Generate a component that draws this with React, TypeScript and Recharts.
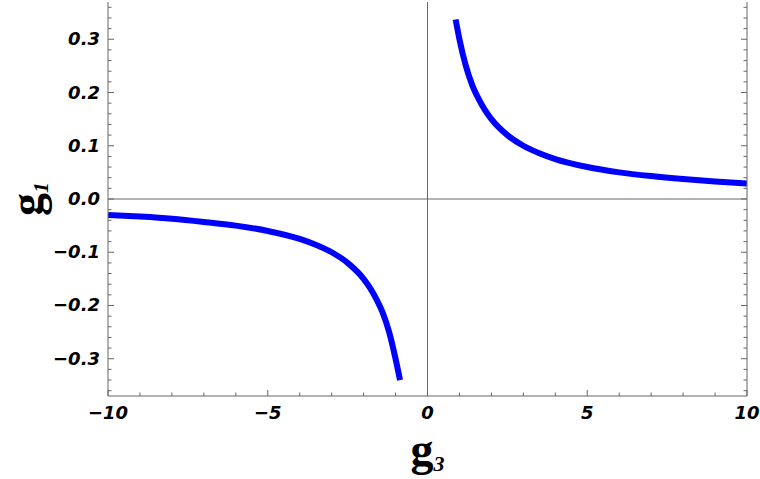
import { LineChart, Line, XAxis, YAxis, ReferenceLine, Label } from "recharts";

// values
const rightG3 = [0.88, 1.0, 1.2, 1.4, 1.6, 1.8, 2.0, 2.5, 3.0, 3.5, 4, 5, 6, 7, 8, 9, 10];
const rightG1 = [0.337, 0.3, 0.25, 0.214, 0.188, 0.167, 0.15, 0.12, 0.1, 0.086, 0.075, 0.06, 0.05, 0.043, 0.0375, 0.033, 0.029];
const leftG3 = [-10, -9, -8, -7, -6, -5, -4, -3.5, -3, -2.5, -2, -1.8, -1.6, -1.4, -1.2, -1.0, -0.86];
const leftG1 = [-0.03, -0.033, -0.037, -0.043, -0.05, -0.06, -0.075, -0.086, -0.1, -0.12, -0.15, -0.167, -0.188, -0.214, -0.25, -0.3, -0.34];

const xTicks = [-10, -9, -8, -7, -6, -5, -4, -3, -2, -1, 0, 1, 2, 3, 4, 5, 6, 7, 8, 9, 10];
const yTicks = [
  -0.36, -0.34, -0.32, -0.3, -0.28, -0.26, -0.24, -0.22, -0.2, -0.18, -0.16, -0.14, -0.12, -0.1,
  -0.08, -0.06, -0.04, -0.02, 0, 0.02, 0.04, 0.06, 0.08, 0.1, 0.12, 0.14, 0.16, 0.18, 0.2, 0.22,
  0.24, 0.26, 0.28, 0.3, 0.32, 0.34, 0.36,
];

const rightData = rightG3.map((g3, i) => ({ g3, g1: rightG1[i] }));
const leftData = leftG3.map((g3, i) => ({ g3, g1: leftG1[i] }));

const FRAME = "#666";
const tickFont = { fontFamily: "DejaVu Sans", fontWeight: "bold" as const, fontStyle: "italic" as const, fontSize: 18 };

const minus = (s: string) => s.replace("-", "\u2212");
const isMajorY = (v: number) => Math.abs(v * 10 - Math.round(v * 10)) < 1e-6;

const BottomTick = (props: any) => {
  const { x, y, payload } = props;
  const v = payload.value;
  const major = v % 5 === 0;
  return (
    <g>
      <line x1={x} x2={x} y1={y} y2={y - (major ? 6 : 3.5)} stroke={FRAME} />
      {major && (
        <text x={x} y={y + 23} textAnchor="middle" fill="#000" {...tickFont}>
          {minus(String(v))}
        </text>
      )}
    </g>
  );
};

const TopTick = (props: any) => {
  const { x, y, payload } = props;
  const major = payload.value % 5 === 0;
  return <line x1={x} x2={x} y1={y} y2={y + (major ? 6 : 3.5)} stroke={FRAME} />;
};

const LeftTick = (props: any) => {
  const { x, y, payload } = props;
  const v = payload.value;
  const major = isMajorY(v);
  return (
    <g>
      <line x1={x} x2={x + (major ? 6 : 3.5)} y1={y} y2={y} stroke={FRAME} />
      {major && (
        <text x={x - 8} y={y + 6} textAnchor="end" fill="#000" {...tickFont}>
          {minus(v.toFixed(1))}
        </text>
      )}
    </g>
  );
};

const RightTick = (props: any) => {
  const { x, y, payload } = props;
  const major = isMajorY(payload.value);
  return <line x1={x} x2={x - (major ? 6 : 3.5)} y1={y} y2={y} stroke={FRAME} />;
};

const XTitle = (props: any) => {
  const { x, y, width } = props.viewBox;
  return (
    <text x={x + width / 2} y={y + 69} textAnchor="middle" fill="#000" fontFamily="Liberation Serif">
      <tspan fontSize={46} fontWeight="bold">g</tspan>
      <tspan fontSize={22} fontWeight="bold" fontStyle="italic" dy={6}>3</tspan>
    </text>
  );
};

const YTitle = (props: any) => {
  const { y, height } = props.viewBox;
  const cx = 42;
  const cy = y + height / 2;
  return (
    <text x={cx} y={cy} transform={`rotate(-90, ${cx}, ${cy})`} textAnchor="middle" fill="#000" fontFamily="Liberation Serif">
      <tspan fontSize={46} fontWeight="bold">g</tspan>
      <tspan fontSize={22} fontWeight="bold" fontStyle="italic" dy={6}>1</tspan>
    </text>
  );
};

export default function App() {
  return (
    <div style={{ position: "fixed", left: 0, top: 0, background: "#fff" }}>
      <LineChart width={760} height={479} margin={{ top: 2, right: 0, bottom: 0, left: 0 }}>
        <XAxis
          xAxisId="b"
          type="number"
          dataKey="g3"
          domain={[-10, 10]}
          ticks={xTicks}
          interval={0}
          allowDataOverflow
          height={83}
          tickSize={0}
          tickMargin={0}
          tickLine={false}
          tick={<BottomTick />}
          axisLine={{ stroke: FRAME }}
        >
          <Label content={<XTitle />} />
        </XAxis>
        <XAxis
          xAxisId="t"
          orientation="top"
          type="number"
          domain={[-10, 10]}
          ticks={xTicks}
          interval={0}
          allowDataOverflow
          height={0}
          tickSize={0}
          tickMargin={0}
          tickLine={false}
          tick={<TopTick />}
          axisLine={{ stroke: FRAME }}
        />
        <YAxis
          yAxisId="l"
          type="number"
          domain={[-0.37, 0.37]}
          ticks={yTicks}
          interval={0}
          allowDataOverflow
          width={108}
          tickSize={0}
          tickMargin={0}
          tickLine={false}
          tick={<LeftTick />}
          axisLine={{ stroke: FRAME }}
        >
          <Label content={<YTitle />} />
        </YAxis>
        <YAxis
          yAxisId="r"
          orientation="right"
          type="number"
          domain={[-0.37, 0.37]}
          ticks={yTicks}
          interval={0}
          allowDataOverflow
          width={13}
          tickSize={0}
          tickMargin={0}
          tickLine={false}
          tick={<RightTick />}
          axisLine={{ stroke: FRAME }}
        />
        <ReferenceLine xAxisId="b" yAxisId="l" x={0} stroke="#666" />
        <ReferenceLine xAxisId="b" yAxisId="l" y={0} stroke="#666" />
        <Line
          xAxisId="b"
          yAxisId="l"
          data={leftData}
          dataKey="g1"
          type="monotone"
          stroke="#0000ff"
          strokeWidth={6}
          dot={false}
          isAnimationActive={false}
        />
        <Line
          xAxisId="b"
          yAxisId="l"
          data={rightData}
          dataKey="g1"
          type="monotone"
          stroke="#0000ff"
          strokeWidth={6}
          dot={false}
          isAnimationActive={false}
        />
      </LineChart>
    </div>
  );
}
